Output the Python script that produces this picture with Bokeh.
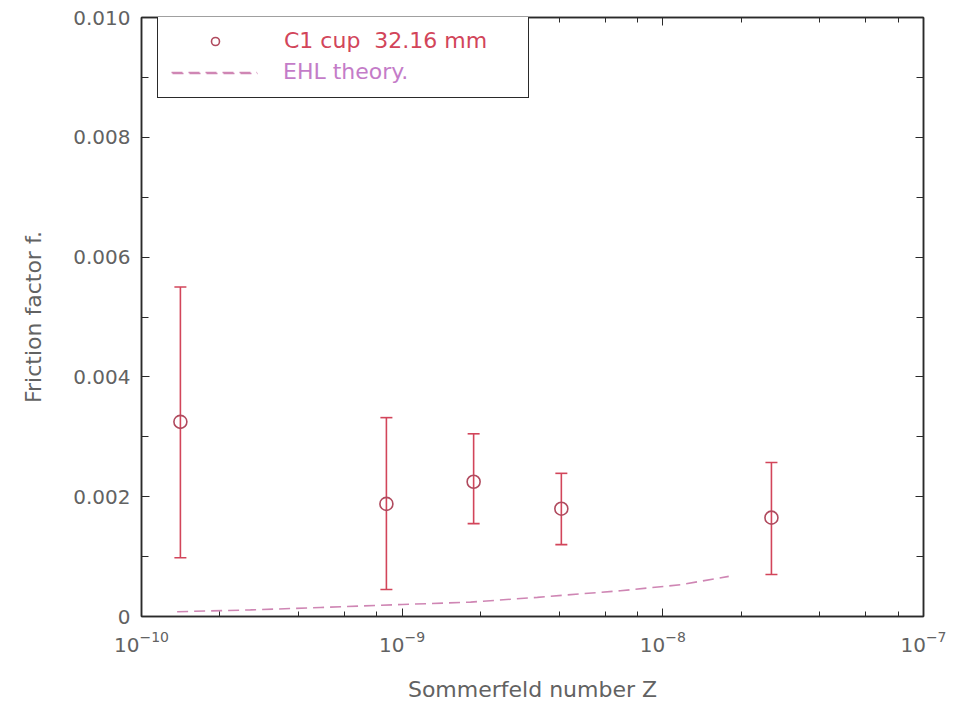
from bokeh.plotting import figure
from bokeh.models import (ColumnDataSource, Whisker, TeeHead, Legend, LegendItem,
                          LogAxis, LinearAxis, FixedTicker, LogTicker, Range1d)
from bokeh.embed import file_html
from bokeh.resources import INLINE

# ---- data ----
z_exp = [1.41e-10, 8.7e-10, 1.88e-9, 4.08e-9, 2.61e-8]
f_exp = [0.00325, 0.00188, 0.00225, 0.00180, 0.00165]
f_upper = [0.00550, 0.00332, 0.00305, 0.00239, 0.00257]
f_lower = [0.00098, 0.00045, 0.00155, 0.00120, 0.00070]

z_ehl = [1.37e-10, 2.62e-10, 4.86e-10, 1.0e-9, 1.83e-9, 3.3e-9, 6.87e-9, 1.17e-8, 1.79e-8]
f_ehl = [0.00008, 0.00011, 0.00015, 0.00020, 0.00024, 0.00032, 0.00043, 0.00053, 0.00067]

y_ticks = [0.0, 0.002, 0.004, 0.006, 0.008, 0.010]
y_tick_labels = ["0", "0.002", "0.004", "0.006", "0.008", "0.010"]
y_minor = [(a + b) / 2 for a, b in zip(y_ticks[:-1], y_ticks[1:])]

series_label = "C1 cup  32.16 mm"
theory_label = "EHL theory."

FONT = "DejaVu Sans"
TXT = "#626262"
FRAME = "#2a2a2a"
RED = "#d2455a"
CIRC = "#b04a5e"
PURPLE = "#c47cc8"
DASH = "#cf86b4"

p = figure(width=953, height=712, x_axis_type="log",
           x_range=Range1d(1e-10, 1e-7), y_range=Range1d(0, 0.010),
           output_backend="svg", toolbar_location=None,
           min_border_left=141, min_border_right=30,
           min_border_top=17, min_border_bottom=96)
p.grid.visible = False
p.outline_line_color = FRAME
p.outline_line_width = 1.5
p.background_fill_color = "white"

yt = FixedTicker(ticks=y_ticks, minor_ticks=y_minor)

xa = p.xaxis[0]
xa.axis_label = "Sommerfeld number Z"
xa.ticker = LogTicker()
ya = p.yaxis[0]
ya.axis_label = "Friction factor f."
ya.ticker = yt
ya.major_label_overrides = dict(zip(y_ticks, y_tick_labels))

for ax in (xa, ya):
    ax.axis_label_text_font = FONT
    ax.axis_label_text_font_style = "normal"
    ax.axis_label_text_font_size = "22px"
    ax.axis_label_text_color = TXT
    ax.major_label_text_font = FONT
    ax.major_label_text_font_size = "20px"
    ax.major_label_text_color = TXT
    ax.major_tick_in = 8
    ax.major_tick_out = 0
    ax.minor_tick_in = 5
    ax.minor_tick_out = 0
    ax.axis_line_color = FRAME
    ax.axis_line_width = 1.5
    ax.major_tick_line_color = FRAME
    ax.minor_tick_line_color = FRAME
xa.major_label_standoff = 14
xa.axis_label_standoff = 22
ya.major_label_standoff = 11
ya.axis_label_standoff = 24
ya.minor_tick_in = 7

hidden = dict(major_label_text_font_size="1px", major_label_text_alpha=0,
              major_label_standoff=0, major_tick_in=8, major_tick_out=0,
              minor_tick_out=0, axis_line_color=FRAME, axis_line_width=1.5,
              major_tick_line_color=FRAME, minor_tick_line_color=FRAME)
top = LogAxis(ticker=LogTicker(), minor_tick_in=5, **hidden)
p.add_layout(top, "above")
right = LinearAxis(ticker=FixedTicker(ticks=y_ticks, minor_ticks=y_minor),
                   minor_tick_in=7, **hidden)
p.add_layout(right, "right")

# ---- marks ----
src = ColumnDataSource(dict(z=z_exp, f=f_exp, upper=f_upper, lower=f_lower))
line_r = p.line(z_ehl, f_ehl, line_dash="11 6", line_color=DASH, line_width=1.6)
wh = Whisker(source=src, base="z", upper="upper", lower="lower",
             dimension="height", line_color=RED, line_width=1.6,
             upper_head=TeeHead(size=12, line_color=RED, line_width=1.6),
             lower_head=TeeHead(size=12, line_color=RED, line_width=1.6),
             level="underlay")
p.add_layout(wh)
circ_r = p.scatter("z", "f", source=src, marker="circle", size=13,
                   fill_color=None, line_color=CIRC, line_width=1.6)

# ---- legend ----
common = dict(glyph_width=86, glyph_height=20, label_height=20,
              label_standoff=26, label_text_font=FONT,
              label_text_font_size="22px", margin=0)
leg1 = Legend(items=[LegendItem(label=series_label, renderers=[circ_r]),
                     LegendItem(label=" ", renderers=[line_r])],
              location=(16, 518), padding=14, spacing=10, label_width=230,
              border_line_color=FRAME, border_line_width=1.5,
              border_line_alpha=1.0,
              background_fill_color="white", background_fill_alpha=1.0,
              label_text_color=RED, **common)
leg2 = Legend(items=[LegendItem(label=theory_label, renderers=[line_r])],
              location=(30, 532), padding=0, spacing=0,
              border_line_alpha=0, background_fill_alpha=0,
              label_text_color=PURPLE, **common)
p.add_layout(leg1)
p.add_layout(leg2)

open("out.html", "w").write(file_html(p, INLINE))
